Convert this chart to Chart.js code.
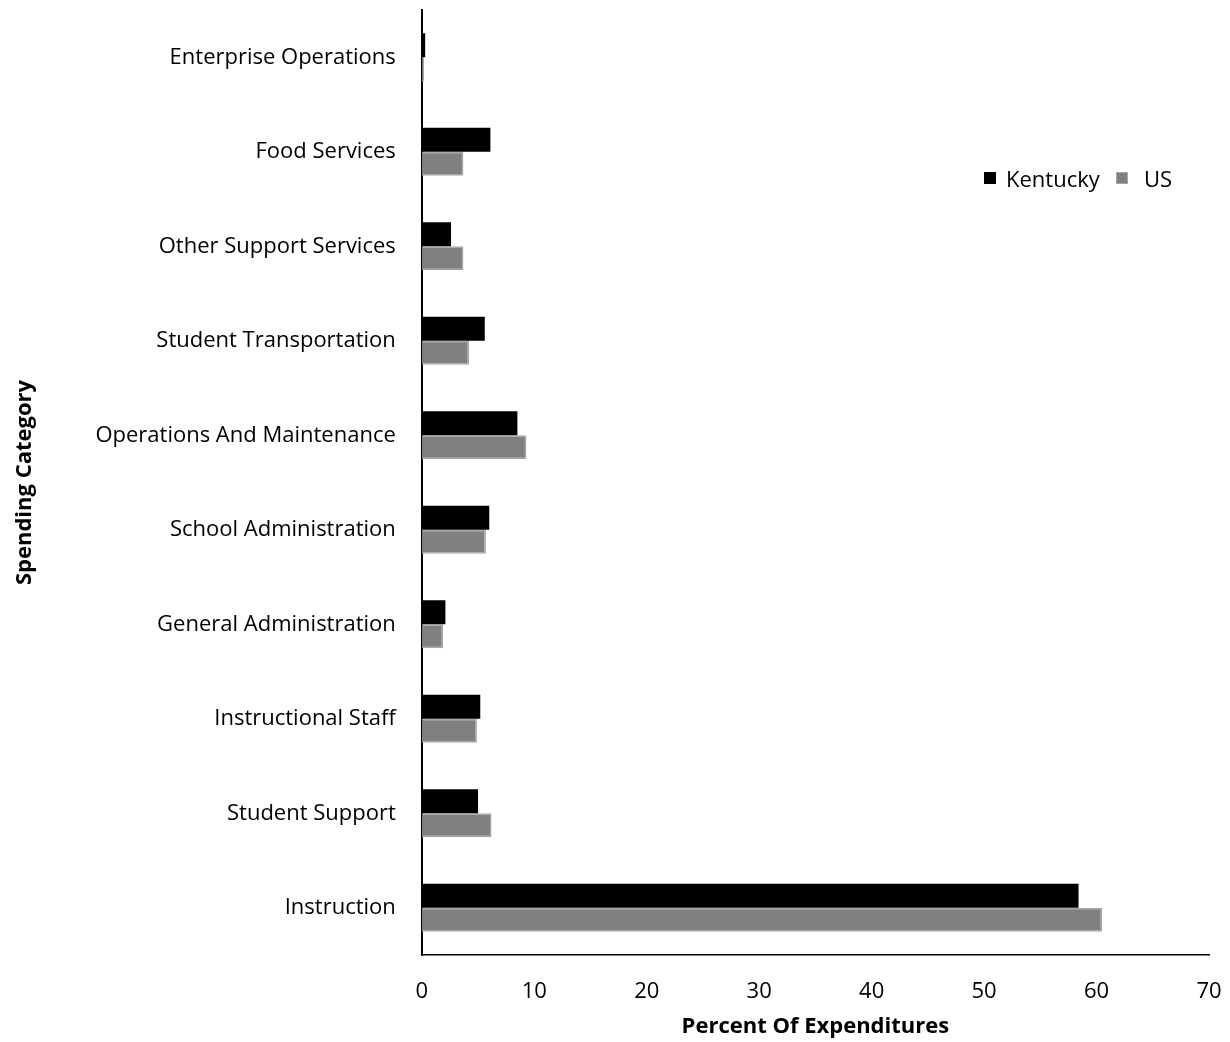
<!DOCTYPE html>
<html>
<head>
<meta charset="utf-8">
<script src="https://cdn.jsdelivr.net/npm/chart.js@4"></script>
<style>
  html, body { margin: 0; padding: 0; background: #fff; }
  #wrap { position: relative; width: 1230px; height: 1042px; }
  .lg { position: absolute; font-family: "Open Sans", "Noto Sans", sans-serif; font-size: 22px; color: #000; line-height: 30px; white-space: nowrap; }
  .box { position: absolute; width: 12px; height: 12px; }
</style>
</head>
<body>
<div id="wrap">
  <canvas id="chart" width="1230" height="1042"></canvas>
  <span class="box" style="left:984px; top:172px; background:#000"></span>
  <span class="lg" style="left:1006px; top:163px">Kentucky</span>
  <span class="box" style="left:1116px; top:172px; width:10px; height:10px; background:#808080; border:1px solid #a6a6a6"></span>
  <span class="lg" style="left:1144px; top:163px">US</span>
</div>
<script>
// categories listed top to bottom
const categories = [
    'Enterprise Operations',
    'Food Services',
    'Other Support Services',
    'Student Transportation',
    'Operations And Maintenance',
    'School Administration',
    'General Administration',
    'Instructional Staff',
    'Student Support',
    'Instruction'
];
const kentucky = [0.3, 6.1, 2.6, 5.6, 8.5, 6.0, 2.1, 5.2, 5.0, 58.4];
const us = [0.2, 3.7, 3.7, 4.2, 9.3, 5.7, 1.9, 4.9, 6.2, 60.5];
const xTicks = [0, 10, 20, 30, 40, 50, 60, 70];

const font = '"Open Sans", "Noto Sans", sans-serif';

const ctx = document.getElementById('chart').getContext('2d');
const chart = new Chart(ctx, {
    type: 'bar',
    data: {
        labels: categories,
        datasets: [{
            label: 'Kentucky',
            data: kentucky,
            backgroundColor: '#000000',
            borderWidth: 0,
            barPercentage: 1,
            categoryPercentage: 0.51
        }, {
            label: 'US',
            data: us,
            backgroundColor: '#808080',
            borderColor: '#a6a6a6',
            borderWidth: 1.5,
            borderSkipped: 'left',
            barPercentage: 1,
            categoryPercentage: 0.51
        }]
    },
    options: {
        indexAxis: 'y',
        responsive: false,
        animation: false,
        layout: { padding: { top: 10, right: 21, bottom: 2, left: 0 } },
        plugins: {
            legend: { display: false },
            tooltip: { enabled: false }
        },
        scales: {
            x: {
                min: 0,
                max: 70,
                afterBuildTicks: axis => { axis.ticks = xTicks.map(v => ({ value: v })); },
                afterFit: axis => { axis.paddingLeft = 0; axis.paddingRight = 0; axis.height = 85; },
                grid: { display: false, drawTicks: false },
                border: { display: true, color: '#000', width: 1.5 },
                ticks: {
                    color: '#000',
                    padding: 24,
                    font: { family: font, size: 22 }
                },
                title: {
                    display: true,
                    text: 'Percent Of Expenditures',
                    color: '#000',
                    padding: { top: 8, bottom: 0 },
                    font: { family: font, size: 22, weight: 'bold' }
                }
            },
            y: {
                afterFit: axis => { axis.paddingTop = 0; axis.paddingBottom = 0; },
                grid: { display: false, drawTicks: false },
                border: { display: true, color: '#000', width: 2 },
                ticks: {
                    color: '#000',
                    padding: 26,
                    font: { family: font, size: 22 }
                },
                title: {
                    display: true,
                    text: 'Spending Category',
                    color: '#000',
                    padding: { top: 12, bottom: 31 },
                    font: { family: font, size: 22, weight: 'bold' }
                }
            }
        }
    }
});
</script>
</body>
</html>
